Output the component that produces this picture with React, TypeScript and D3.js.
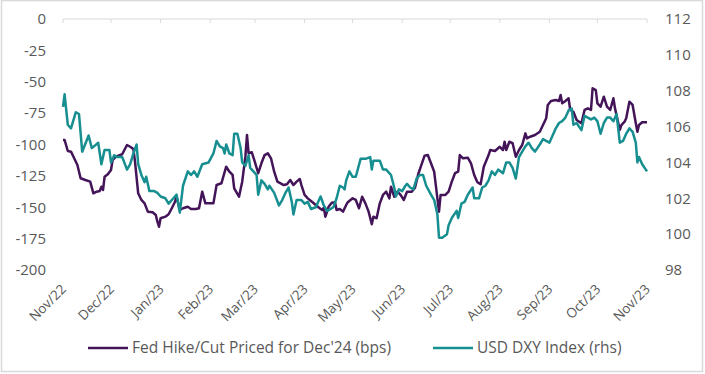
import React, { useEffect, useRef } from 'react';
import * as d3 from 'd3';

// Fed hike/cut priced for Dec'24, bps (left axis)
const fedPricing: [string, number][] = [
["2022-11-01",-96.4],["2022-11-02",-96.4],["2022-11-04",-105.2],["2022-11-06",-105.7],["2022-11-08",-111.0],
["2022-11-10",-116.3],["2022-11-12",-126.9],["2022-11-15",-128.3],["2022-11-18",-129.6],["2022-11-20",-138.9],
["2022-11-22",-137.6],["2022-11-24",-137.0],["2022-11-25",-133.6],["2022-11-26",-136.3],["2022-11-27",-125.7],
["2022-11-29",-123.7],["2022-12-01",-120.3],["2022-12-02",-112.4],["2022-12-04",-109.7],["2022-12-08",-107.8],
["2022-12-11",-100.4],["2022-12-13",-101.8],["2022-12-15",-103.6],["2022-12-16",-113.7],["2022-12-18",-138.9],
["2022-12-20",-144.2],["2022-12-22",-146.9],["2022-12-24",-153.5],["2022-12-27",-154.0],["2022-12-29",-156.2],
["2022-12-30",-161.5],["2022-12-31",-165.5],["2023-01-01",-158.8],["2023-01-04",-157.5],["2023-01-06",-155.6],
["2023-01-08",-150.8],["2023-01-10",-145.6],["2023-01-11",-141.6],["2023-01-13",-152.2],["2023-01-15",-150.8],
["2023-01-18",-149.6],["2023-01-20",-151.4],["2023-01-23",-151.4],["2023-01-25",-150.8],["2023-01-27",-137.6],
["2023-01-29",-146.9],["2023-02-03",-146.9],["2023-02-05",-132.3],["2023-02-08",-130.9],["2023-02-11",-117.7],
["2023-02-13",-121.7],["2023-02-15",-124.3],["2023-02-16",-134.9],["2023-02-19",-141.6],["2023-02-21",-129.6],
["2023-02-23",-109.7],["2023-02-24",-92.4],["2023-02-25",-107.0],["2023-02-27",-106.2],["2023-03-01",-114.2],
["2023-03-03",-122.9],["2023-03-05",-115.0],["2023-03-07",-108.4],["2023-03-09",-107.0],["2023-03-11",-111.0],
["2023-03-13",-121.7],["2023-03-15",-129.6],["2023-03-19",-132.3],["2023-03-21",-131.7],["2023-03-23",-128.3],
["2023-03-25",-132.3],["2023-03-27",-129.6],["2023-03-29",-127.5],["2023-03-30",-132.3],["2023-04-01",-140.2],
["2023-04-03",-142.9],["2023-04-05",-145.0],["2023-04-08",-148.2],["2023-04-10",-150.4],["2023-04-12",-152.2],
["2023-04-13",-150.4],["2023-04-14",-157.5],["2023-04-16",-149.6],["2023-04-18",-146.4],["2023-04-20",-146.1],
["2023-04-21",-152.2],["2023-04-23",-151.4],["2023-04-25",-153.5],["2023-04-27",-148.2],["2023-04-28",-146.0],
["2023-05-01",-142.9],["2023-05-03",-144.2],["2023-05-05",-150.8],["2023-05-07",-141.6],["2023-05-09",-146.9],
["2023-05-11",-153.5],["2023-05-13",-163.6],["2023-05-14",-157.5],["2023-05-16",-158.8],["2023-05-18",-146.9],
["2023-05-20",-140.2],["2023-05-22",-137.6],["2023-05-24",-142.9],["2023-05-25",-133.6],["2023-05-27",-141.6],
["2023-05-29",-137.6],["2023-05-31",-140.2],["2023-06-02",-144.2],["2023-06-04",-137.6],["2023-06-07",-137.6],
["2023-06-09",-134.4],["2023-06-11",-123.7],["2023-06-13",-116.3],["2023-06-15",-108.9],["2023-06-17",-108.4],
["2023-06-19",-115.0],["2023-06-21",-121.7],["2023-06-22",-132.3],["2023-06-24",-153.5],["2023-06-25",-140.2],
["2023-06-28",-140.2],["2023-06-30",-137.6],["2023-07-02",-129.6],["2023-07-04",-122.9],["2023-07-06",-121.7],
["2023-07-07",-108.4],["2023-07-09",-111.0],["2023-07-12",-110.5],["2023-07-14",-115.0],["2023-07-16",-124.3],
["2023-07-18",-130.1],["2023-07-20",-131.7],["2023-07-22",-117.7],["2023-07-25",-108.4],["2023-07-26",-104.4],
["2023-07-29",-105.2],["2023-08-01",-101.8],["2023-08-03",-104.4],["2023-08-04",-97.8],["2023-08-05",-104.4],
["2023-08-07",-97.8],["2023-08-09",-99.0],["2023-08-11",-109.7],["2023-08-13",-104.4],["2023-08-15",-100.4],
["2023-08-17",-91.1],["2023-08-18",-95.1],["2023-08-20",-93.8],["2023-08-23",-92.4],["2023-08-26",-89.8],
["2023-08-28",-84.5],["2023-08-30",-79.1],["2023-08-31",-68.5],["2023-09-02",-65.3],["2023-09-05",-64.5],
["2023-09-07",-65.3],["2023-09-08",-60.6],["2023-09-09",-67.2],["2023-09-11",-65.3],["2023-09-13",-63.2],
["2023-09-14",-72.5],["2023-09-16",-73.9],["2023-09-18",-80.5],["2023-09-21",-83.1],["2023-09-23",-72.5],
["2023-09-25",-71.2],["2023-09-27",-72.5],["2023-09-28",-55.2],["2023-09-30",-56.6],["2023-10-01",-67.2],
["2023-10-03",-69.9],["2023-10-05",-61.9],["2023-10-07",-69.9],["2023-10-09",-72.5],["2023-10-11",-63.2],
["2023-10-12",-71.2],["2023-10-15",-88.4],["2023-10-16",-84.5],["2023-10-18",-81.8],["2023-10-19",-79.1],
["2023-10-21",-65.9],["2023-10-23",-68.5],["2023-10-25",-83.1],["2023-10-26",-89.8],["2023-10-27",-84.5],
["2023-10-29",-82.3],["2023-11-01",-82.3]];

// USD DXY index (right axis)
const dxyIndex: [string, number][] = [
["2022-11-01",107.1],["2022-11-02",107.8],["2022-11-04",106.1],["2022-11-06",105.9],["2022-11-09",106.8],
["2022-11-11",106.7],["2022-11-13",104.6],["2022-11-17",105.5],["2022-11-19",104.8],["2022-11-23",105.1],
["2022-11-25",103.9],["2022-11-27",104.7],["2022-11-30",104.7],["2022-12-01",104.0],["2022-12-03",104.4],
["2022-12-05",104.3],["2022-12-08",104.3],["2022-12-11",103.6],["2022-12-13",103.9],["2022-12-15",104.5],
["2022-12-17",105.0],["2022-12-18",103.9],["2022-12-20",103.3],["2022-12-22",102.9],["2022-12-23",103.2],
["2022-12-25",102.4],["2022-12-28",102.4],["2022-12-30",102.3],["2023-01-01",102.1],["2023-01-04",102.0],
["2023-01-06",101.7],["2023-01-09",102.0],["2023-01-11",102.2],["2023-01-13",101.2],["2023-01-15",102.7],
["2023-01-18",103.5],["2023-01-20",103.3],["2023-01-22",103.5],["2023-01-24",103.2],["2023-01-27",103.9],
["2023-01-31",104.0],["2023-02-03",104.5],["2023-02-05",105.2],["2023-02-07",104.9],["2023-02-09",104.8],
["2023-02-10",104.5],["2023-02-11",105.0],["2023-02-13",104.5],["2023-02-15",104.4],["2023-02-16",105.6],
["2023-02-18",105.6],["2023-02-20",104.8],["2023-02-21",104.0],["2023-02-23",103.8],["2023-02-25",104.4],
["2023-02-26",103.7],["2023-02-28",103.5],["2023-03-02",103.3],["2023-03-03",102.2],["2023-03-05",103.0],
["2023-03-07",102.8],["2023-03-09",102.5],["2023-03-10",102.7],["2023-03-13",102.3],["2023-03-16",101.6],
["2023-03-18",101.9],["2023-03-20",102.3],["2023-03-22",102.6],["2023-03-24",101.8],["2023-03-25",101.1],
["2023-03-27",101.9],["2023-03-30",101.9],["2023-04-01",101.7],["2023-04-03",101.8],["2023-04-05",101.4],
["2023-04-08",101.5],["2023-04-10",101.9],["2023-04-11",102.1],["2023-04-13",101.6],["2023-04-15",101.3],
["2023-04-17",101.4],["2023-04-19",101.5],["2023-04-21",102.0],["2023-04-23",102.7],["2023-04-25",102.6],
["2023-04-26",102.5],["2023-04-27",103.0],["2023-04-29",103.5],["2023-05-01",103.2],["2023-05-03",103.2],
["2023-05-06",104.2],["2023-05-09",104.2],["2023-05-12",104.3],["2023-05-13",103.6],["2023-05-14",104.1],
["2023-05-18",104.1],["2023-05-20",103.6],["2023-05-22",103.6],["2023-05-25",103.3],["2023-05-27",102.6],
["2023-05-28",102.1],["2023-05-30",102.5],["2023-06-01",102.4],["2023-06-03",102.7],["2023-06-04",102.8],
["2023-06-06",102.6],["2023-06-08",102.5],["2023-06-10",103.1],["2023-06-12",103.3],["2023-06-14",103.3],
["2023-06-16",102.7],["2023-06-19",102.2],["2023-06-21",101.9],["2023-06-23",101.1],["2023-06-24",99.8],
["2023-06-26",99.8],["2023-06-29",100.0],["2023-06-30",100.5],["2023-07-02",100.9],["2023-07-05",101.3],
["2023-07-06",100.9],["2023-07-08",101.7],["2023-07-10",101.8],["2023-07-12",102.2],["2023-07-15",102.6],
["2023-07-16",102.0],["2023-07-19",102.0],["2023-07-21",102.6],["2023-07-23",102.7],["2023-07-25",103.0],
["2023-07-27",103.5],["2023-07-29",103.3],["2023-07-31",103.6],["2023-08-03",103.4],["2023-08-05",104.0],
["2023-08-07",104.0],["2023-08-09",103.7],["2023-08-11",103.1],["2023-08-13",104.3],["2023-08-15",104.6],
["2023-08-17",104.9],["2023-08-19",105.1],["2023-08-21",104.8],["2023-08-23",104.6],["2023-08-26",105.0],
["2023-08-28",105.3],["2023-08-30",105.2],["2023-09-01",105.1],["2023-09-03",105.5],["2023-09-05",105.9],
["2023-09-07",106.2],["2023-09-09",106.3],["2023-09-11",106.5],["2023-09-13",106.9],["2023-09-15",107.0],
["2023-09-16",106.1],["2023-09-18",106.2],["2023-09-21",105.8],["2023-09-23",106.6],["2023-09-25",106.5],
["2023-09-27",106.4],["2023-09-29",106.5],["2023-10-01",106.3],["2023-10-03",105.6],["2023-10-05",106.2],
["2023-10-07",106.5],["2023-10-09",106.5],["2023-10-11",106.3],["2023-10-13",106.7],["2023-10-15",105.1],
["2023-10-17",105.2],["2023-10-19",105.6],["2023-10-21",105.9],["2023-10-23",105.7],["2023-10-25",105.1],
["2023-10-26",104.0],["2023-10-27",104.3],["2023-10-29",103.9],["2023-11-01",103.5]];

const leftTicks = [0, -25, -50, -75, -100, -125, -150, -175, -200];
const rightTicks = [112, 110, 108, 106, 104, 102, 100, 98];
const monthTicks = ["2022-11-01","2022-12-01","2023-01-01","2023-02-01","2023-03-01","2023-04-01",
  "2023-05-01","2023-06-01","2023-07-01","2023-08-01","2023-09-01","2023-10-01","2023-11-01"];
const legendLabels = ["Fed Hike/Cut Priced for Dec'24 (bps)", "USD DXY Index (rhs)"];

const purple = "#441459";
const teal = "#178e90";
const textColor = "#595959";
const font = "'Open Sans', sans-serif";

const parseDate = d3.timeParse("%Y-%m-%d");
const monthFormat = d3.timeFormat("%b/%y");

let x_scale = d3.scaleTime()
  .domain([parseDate("2022-11-01") as Date, parseDate("2023-11-01") as Date])
  .range([63, 647]);

let y_left = d3.scaleLinear()
  .domain([-200, 0])
  .range([270, 19]);

let y_right = d3.scaleLinear()
  .domain([98, 112])
  .range([270, 19]);

export default function App() {
  const ref = useRef<SVGSVGElement>(null);

  useEffect(() => {
    const svg = d3.select(ref.current);
    svg.selectAll("*").remove();

    // chart border
    svg.append("rect")
      .attr("x", 1.5).attr("y", 0.5)
      .attr("width", 701).attr("height", 371)
      .attr("fill", "white")
      .attr("stroke", "#d9d9d9")
      .attr("stroke-width", 1.5);

    // category axis sits at 0, i.e. the top of the plot
    svg.append("line")
      .attr("x1", x_scale.range()[0]).attr("x2", x_scale.range()[1])
      .attr("y1", y_left(0)).attr("y2", y_left(0))
      .attr("stroke", "#d9d9d9").attr("stroke-width", 1);

    svg.selectAll("ticks")
      .data(monthTicks)
      .join("line")
      .attr("x1", d => x_scale(parseDate(d) as Date))
      .attr("x2", d => x_scale(parseDate(d) as Date))
      .attr("y1", y_left(0))
      .attr("y2", y_left(0) + 4)
      .attr("stroke", "#d9d9d9");

    svg.selectAll("monthlabels")
      .data(monthTicks)
      .join("text")
      .attr("transform", d => `translate(${x_scale(parseDate(d) as Date) + 4},290) rotate(-45)`)
      .attr("text-anchor", "end")
      .attr("font-family", font)
      .attr("font-size", 13.5)
      .attr("fill", textColor)
      .text(d => monthFormat(parseDate(d) as Date));

    svg.selectAll("leftlabels")
      .data(leftTicks)
      .join("text")
      .attr("x", 46)
      .attr("y", d => y_left(d))
      .attr("dy", "0.35em")
      .attr("text-anchor", "end")
      .attr("font-family", font)
      .attr("font-size", 15)
      .attr("fill", textColor)
      .text(d => d);

    svg.selectAll("rightlabels")
      .data(rightTicks)
      .join("text")
      .attr("x", 665)
      .attr("y", d => y_right(d))
      .attr("dy", "0.35em")
      .attr("font-family", font)
      .attr("font-size", 15)
      .attr("fill", textColor)
      .text(d => d);

    const fedLine = d3.line<[string, number]>()
      .x(d => x_scale(parseDate(d[0]) as Date))
      .y(d => y_left(d[1]));

    const dxyLine = d3.line<[string, number]>()
      .x(d => x_scale(parseDate(d[0]) as Date))
      .y(d => y_right(d[1]));

    svg.append("path")
      .attr("d", fedLine(fedPricing))
      .attr("fill", "none")
      .attr("stroke", purple)
      .attr("stroke-width", 2.5)
      .attr("stroke-linejoin", "round");

    svg.append("path")
      .attr("d", dxyLine(dxyIndex))
      .attr("fill", "none")
      .attr("stroke", teal)
      .attr("stroke-width", 2.5)
      .attr("stroke-linejoin", "round");

    // legend
    const legendX = [88, 433];
    const colors = [purple, teal];
    legendLabels.forEach((label, i) => {
      svg.append("line")
        .attr("x1", legendX[i]).attr("x2", legendX[i] + 40)
        .attr("y1", 348).attr("y2", 348)
        .attr("stroke", colors[i])
        .attr("stroke-width", 2.5);
      svg.append("text")
        .attr("x", legendX[i] + 44)
        .attr("y", 348)
        .attr("dy", "0.35em")
        .attr("font-family", font)
        .attr("font-size", 15.5)
        .attr("fill", textColor)
        .text(label);
    });
  }, []);

  return (
    <svg ref={ref} width={705} height={374}
      style={{ position: "absolute", left: 0, top: 0, display: "block" }} />
  );
}
